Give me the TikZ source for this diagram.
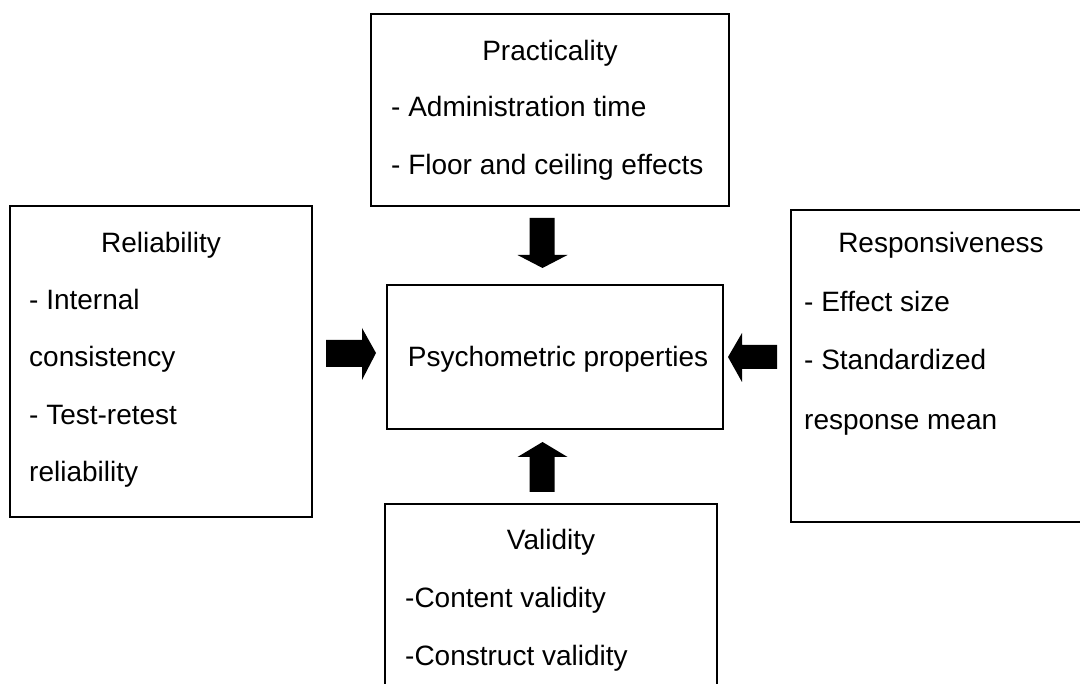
\documentclass[tikz,border=0pt]{standalone}
\usepackage{fontspec}
\setmainfont{Liberation Sans}
\begin{document}
\begin{tikzpicture}[x=1pt,y=-1pt,
  box/.style={draw=black,line width=1.6pt,fill=white},
  txt/.style={inner sep=0pt,font=\fontsize{28}{33}\selectfont},
  lbl/.style={txt,anchor=base west},
  ttl/.style={txt,anchor=base},
  blk/.style={fill=black,draw=none}]
\clip (0,0) rectangle (1080,684);
\fill[white] (0,0) rectangle (1080,684);

% boxes
\draw[box] (371,14) rectangle (729,206);
\draw[box] (10,206) rectangle (312,517);
\draw[box] (387,285) rectangle (723,429);
\draw[box] (791,210) rectangle (1095,522);
\draw[box] (385,504) rectangle (717,700);

% Practicality
\node[ttl] (pt) at (550,61) {Practicality};
\node[lbl] (p1) at (391,117) {- Administration time};
\node[lbl] (p2) at (391,175) {- Floor and ceiling effects};

% Reliability
\node[ttl] (rt) at (161,253) {Reliability};
\node[lbl] (r1) at (29,310) {- Internal};
\node[lbl] (r2) at (29,367) {consistency};
\node[lbl] (r3) at (29,425) {- Test-retest};
\node[lbl] (r4) at (29,482) {reliability};

% centre
\node[ttl] (ps) at (558,367) {Psychometric properties};

% Responsiveness
\node[ttl] (st) at (941,253) {Responsiveness};
\node[lbl] (s1) at (804,312) {- Effect size};
\node[lbl] (s2) at (804,370) {- Standardized};
\node[lbl] (s3) at (804,430) {response mean};

% Validity
\node[ttl] (vt) at (551,550) {Validity};
\node[lbl] (v1) at (405,607) {-Content validity};
\node[lbl] (v2) at (405,665) {-Construct validity};

% block arrows
\coordinate (aTop) at (542.5,268);
\coordinate (aBot) at (542.5,442);
\coordinate (aLeft) at (376,353);
\coordinate (aRight) at (728,357);

\fill[blk] (aTop) -- ++(-25,-13) -- ++(12,0) -- ++(0,-37) -- ++(25,0)
  -- ++(0,37) -- ++(13,0) -- cycle;
\fill[blk] (aBot) -- ++(-25,15) -- ++(12,0) -- ++(0,35) -- ++(25,0)
  -- ++(0,-35) -- ++(13,0) -- cycle;
\fill[blk] (aLeft) -- ++(-14,-25) -- ++(0,12) -- ++(-36,0) -- ++(0,27)
  -- ++(36,0) -- ++(0,13) -- cycle;
\fill[blk] (aRight) -- ++(14,-24) -- ++(0,12) -- ++(35,0) -- ++(0,24)
  -- ++(-35,0) -- ++(0,13) -- cycle;
\end{tikzpicture}
\end{document}
